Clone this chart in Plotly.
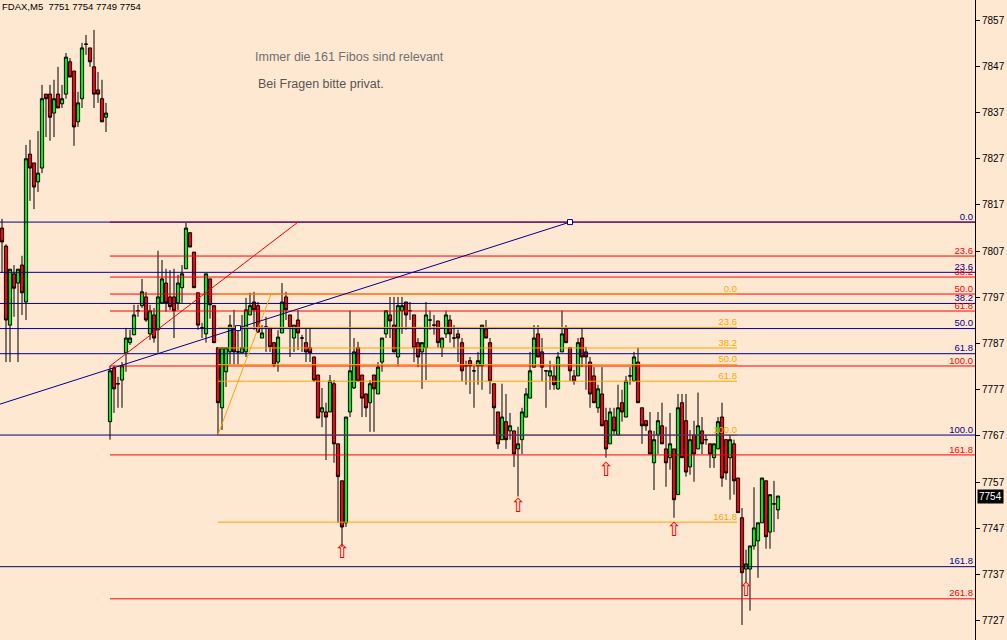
import plotly.graph_objects as go

# ---------------- data ----------------
symbol_header = "FDAX,M5  7751 7754 7749 7754"
note_1 = "Immer die 161 Fibos sind relevant"
note_2 = "Bei Fragen bitte privat."

bars = list(range(195))

opens = [7812.0, 7808.1, 7791.0, 7802.1, 7800.1, 7804.0, 7796.0, 7828.0, 7826.1, 7822.0,
         7825.0, 7841.0, 7841.0, 7836.9, 7841.0, 7838.9, 7841.0, 7848.0, 7846.0, 7835.0,
         7840.0, 7851.8, 7851.0, 7846.9, 7841.9, 7840.0, 7836.0,
         7770.1, 7781.7, 7778.3, 7779.1, 7785.0, 7787.2, 7788.9, 7794.1, 7795.2, 7797.1,
         7789.1, 7793.2, 7790.0, 7795.8, 7800.1, 7797.1, 7797.1, 7795.8, 7799.1, 7803.2,
         7811.0, 7806.8, 7798.0, 7790.4, 7789.1, 7801.0, 7795.2, 7786.1, 7773.1, 7780.9,
         7785.2, 7790.4, 7785.2, 7785.0, 7785.2, 7793.2, 7796.0, 7795.2, 7788.2, 7790.6,
         7790.4, 7787.2, 7783.0, 7789.3, 7797.1, 7793.2, 7788.2, 7792.1, 7788.2, 7787.2,
         7786.1, 7784.1, 7780.2, 7772.2, 7772.2, 7772.2, 7778.3, 7765.3, 7757.3, 7748.2,
         7772.2, 7777.4, 7786.1, 7780.2, 7776.1, 7774.2, 7780.2, 7776.1, 7783.0, 7789.1,
         7793.2, 7791.0, 7784.1, 7794.1, 7796.0, 7794.1, 7793.2, 7787.2, 7785.2, 7786.1,
         7792.1, 7791.0, 7791.9, 7786.1, 7789.1, 7792.1, 7788.2, 7789.1, 7787.2, 7782.2,
         7783.3, 7781.1, 7782.2, 7782.2, 7790.2, 7787.2, 7778.3, 7772.2, 7766.2, 7770.1,
         7768.1, 7768.1, 7764.2, 7766.2, 7771.1, 7775.2, 7781.9, 7789.1, 7785.2, 7781.1,
         7780.0, 7780.0, 7777.2, 7785.2, 7790.2, 7786.1, 7780.0, 7780.0, 7788.2, 7785.2,
         7783.0, 7780.0, 7773.1, 7776.1, 7770.3, 7765.3, 7771.1, 7767.2, 7774.2, 7771.1,
         7780.0, 7778.9, 7783.0, 7773.1, 7770.3, 7768.1, 7761.2, 7767.2, 7769.2, 7764.2,
         7762.3, 7764.2, 7754.3, 7774.2, 7770.3, 7760.3, 7767.2, 7764.2, 7768.1, 7766.2,
         7765.3, 7762.3, 7764.2, 7771.1, 7766.2, 7762.3, 7765.3, 7757.9, 7749.3, 7738.2,
         7738.2, 7743.2, 7744.3, 7748.2, 7757.3, 7746.2, 7752.3, 7751.0]

highs = [7814.0, 7808.5, 7803.1, 7804.0, 7803.1, 7806.0, 7830.0, 7831.1, 7826.1, 7833.0,
         7843.0, 7841.0, 7843.0, 7844.1, 7846.9, 7843.0, 7849.9, 7848.8, 7846.0, 7841.5,
         7852.1, 7853.8, 7851.0, 7854.9, 7845.8, 7844.1, 7839.1,
         7782.2, 7782.2, 7779.8, 7783.0, 7790.4, 7790.0, 7795.4, 7795.4, 7801.0, 7798.2,
         7795.4, 7794.7, 7807.1, 7805.1, 7803.2, 7802.9, 7803.2, 7801.9, 7804.0, 7813.1,
         7811.0, 7806.8, 7798.0, 7791.5, 7802.1, 7801.0, 7795.2, 7786.1, 7786.1, 7786.1,
         7793.2, 7794.3, 7790.6, 7793.2, 7796.9, 7798.0, 7798.2, 7796.0, 7791.0, 7792.8,
         7790.4, 7787.2, 7789.9, 7800.1, 7798.2, 7793.2, 7791.0, 7794.3, 7788.9, 7790.4,
         7790.4, 7784.1, 7780.2, 7777.4, 7774.2, 7780.2, 7779.1, 7765.3, 7757.3, 7771.1,
         7794.1, 7788.2, 7787.4, 7780.2, 7776.1, 7779.1, 7780.2, 7783.0, 7788.2, 7794.1,
         7797.1, 7797.1, 7797.1, 7797.1, 7796.0, 7796.0, 7793.2, 7788.2, 7787.2, 7796.0,
         7794.1, 7793.2, 7791.9, 7788.2, 7794.1, 7793.2, 7791.0, 7790.0, 7788.2, 7783.3,
         7784.1, 7782.2, 7785.2, 7791.0, 7792.1, 7788.2, 7778.3, 7772.2, 7778.3, 7776.1,
         7772.0, 7768.1, 7769.0, 7773.1, 7777.4, 7785.2, 7791.0, 7791.0, 7788.2, 7781.1,
         7783.3, 7782.2, 7785.2, 7794.1, 7791.0, 7786.1, 7781.3, 7788.2, 7790.2, 7786.3,
         7784.1, 7781.9, 7778.1, 7781.9, 7773.1, 7773.1, 7773.1, 7778.1, 7777.0, 7780.0,
         7781.9, 7785.2, 7786.1, 7773.1, 7770.3, 7772.2, 7768.1, 7772.2, 7774.2, 7769.0,
         7772.0, 7764.2, 7776.1, 7776.1, 7776.1, 7768.3, 7770.3, 7776.4, 7771.1, 7767.2,
         7765.3, 7765.3, 7771.1, 7774.2, 7766.2, 7767.2, 7766.2, 7757.9, 7751.4, 7742.4,
         7743.2, 7755.9, 7748.2, 7757.9, 7757.3, 7754.3, 7757.3, 7754.0]

lows = [7802.3, 7783.0, 7783.0, 7792.8, 7783.0, 7793.2, 7792.1, 7817.9, 7816.1, 7819.8,
        7823.9, 7831.7, 7830.9, 7831.7, 7838.0, 7838.0, 7840.0, 7844.7, 7829.8, 7833.9,
        7838.0, 7849.5, 7846.9, 7838.0, 7839.1, 7835.0, 7832.8,
        7766.2, 7772.0, 7773.1, 7773.1, 7780.9, 7786.7, 7788.9, 7792.8, 7794.7, 7791.7,
        7787.8, 7787.2, 7785.0, 7795.8, 7793.9, 7794.3, 7788.2, 7794.3, 7795.8, 7803.2,
        7807.9, 7799.1, 7790.0, 7788.2, 7787.2, 7792.4, 7787.2, 7767.2, 7768.3, 7777.6,
        7782.4, 7782.4, 7782.4, 7785.0, 7784.1, 7793.2, 7790.0, 7789.3, 7788.2, 7785.2,
        7785.2, 7781.9, 7780.9, 7789.3, 7792.1, 7784.1, 7785.2, 7785.6, 7785.2, 7783.0,
        7783.0, 7778.7, 7770.9, 7768.9, 7761.8, 7772.2, 7761.2, 7748.2, 7743.0, 7747.3,
        7771.1, 7777.2, 7778.9, 7771.1, 7771.1, 7767.9, 7767.9, 7776.1, 7780.9, 7788.2,
        7788.2, 7785.2, 7782.2, 7789.1, 7790.0, 7792.1, 7783.0, 7781.9, 7777.2, 7779.1,
        7790.0, 7788.9, 7786.1, 7784.1, 7788.2, 7787.2, 7786.1, 7783.0, 7778.9, 7778.1,
        7776.1, 7773.1, 7778.1, 7777.0, 7788.2, 7776.1, 7767.2, 7764.2, 7766.2, 7764.2,
        7766.2, 7760.3, 7753.9, 7763.1, 7771.1, 7775.2, 7781.9, 7784.1, 7778.9, 7773.1,
        7777.0, 7777.0, 7777.0, 7785.2, 7787.2, 7778.9, 7778.1, 7780.0, 7781.9, 7777.0,
        7773.1, 7774.2, 7772.0, 7769.2, 7762.3, 7765.3, 7767.2, 7767.2, 7770.1, 7771.1,
        7778.1, 7778.9, 7774.2, 7765.3, 7768.1, 7763.1, 7755.3, 7763.1, 7765.3, 7756.0,
        7759.7, 7749.3, 7754.3, 7762.3, 7758.2, 7758.6, 7757.1, 7764.2, 7763.1, 7765.1,
        7760.1, 7760.1, 7764.2, 7756.0, 7757.5, 7753.2, 7754.3, 7750.4, 7726.1, 7735.2,
        7729.2, 7742.4, 7736.3, 7748.2, 7742.6, 7742.6, 7746.2, 7749.0]

closes = [7809.0, 7792.1, 7803.1, 7799.0, 7803.1, 7798.0, 7827.0, 7825.0, 7820.9, 7823.9,
          7840.0, 7840.0, 7836.0, 7840.0, 7838.0, 7840.0, 7849.0, 7844.7, 7833.9, 7839.1,
          7851.0, 7851.8, 7848.0, 7841.0, 7841.0, 7835.0, 7836.9,
          7781.1, 7777.2, 7778.3, 7782.2, 7788.2, 7788.2, 7793.2, 7794.1, 7798.2, 7792.1,
          7794.1, 7788.2, 7797.1, 7801.0, 7795.8, 7795.0, 7794.1, 7800.1, 7802.1, 7812.0,
          7807.9, 7799.1, 7791.0, 7790.4, 7802.1, 7795.4, 7787.2, 7774.2, 7786.1, 7786.1,
          7791.0, 7785.2, 7785.2, 7786.1, 7794.3, 7795.2, 7794.3, 7789.5, 7789.3, 7790.6,
          7786.3, 7782.4, 7788.4, 7796.0, 7794.3, 7790.4, 7791.0, 7789.3, 7788.2, 7785.2,
          7785.0, 7779.1, 7770.9, 7773.1, 7771.1, 7778.9, 7765.3, 7758.2, 7747.3, 7771.1,
          7781.1, 7785.2, 7778.9, 7775.2, 7773.1, 7778.3, 7777.2, 7781.9, 7788.2, 7794.1,
          7791.9, 7785.2, 7795.2, 7795.2, 7793.2, 7794.1, 7786.1, 7784.1, 7787.2, 7793.2,
          7792.1, 7791.0, 7787.2, 7788.2, 7793.2, 7789.1, 7788.2, 7788.2, 7781.1, 7782.2,
          7782.2, 7781.1, 7783.3, 7791.0, 7788.2, 7778.9, 7773.1, 7765.3, 7771.1, 7766.2,
          7769.2, 7763.1, 7765.3, 7772.2, 7776.1, 7781.1, 7788.2, 7784.1, 7781.9, 7781.1,
          7781.1, 7778.1, 7784.1, 7789.1, 7787.2, 7781.1, 7778.9, 7787.2, 7784.1, 7784.1,
          7776.1, 7774.2, 7777.2, 7769.2, 7764.2, 7772.2, 7768.1, 7773.1, 7772.2, 7778.9,
          7780.0, 7784.1, 7774.2, 7769.2, 7769.2, 7763.1, 7766.2, 7770.3, 7765.3, 7761.2,
          7765.3, 7753.2, 7773.1, 7762.3, 7759.2, 7766.2, 7763.1, 7769.2, 7765.3, 7766.2,
          7763.1, 7765.3, 7770.1, 7757.9, 7759.0, 7766.2, 7757.3, 7750.4, 7737.4, 7739.3,
          7743.2, 7747.1, 7748.2, 7757.9, 7745.2, 7754.3, 7752.3, 7754.0]

# Fibonacci retracements (anchor prices, levels, bar span)
fib_levels_blue = [0.0, 23.6, 38.2, 50.0, 61.8, 100.0, 161.8]
fib_blue_high, fib_blue_low = 7813.3, 7767.2
fib_blue_span = [-30, 250]

fib_levels_red = [0.0, 23.6, 38.2, 50.0, 61.8, 100.0, 161.8, 261.8]
fib_red_high, fib_red_low = 7813.3, 7782.15
fib_red_span = [27, 250]

fib_levels_orange = [0.0, 23.6, 38.2, 50.0, 61.8, 100.0, 161.8]
fib_orange_high, fib_orange_low = 7797.7, 7767.2
fib_orange_span = [54, 183.75]

# trend lines (bar, price)
trend_blue_x, trend_blue_y = [-24, 142], [7767.4, 7813.3]
trend_blue_handles_x, trend_blue_handles_y = [59, 142], [7790.35, 7813.3]
trend_red_x, trend_red_y = [27, 74], [7782.15, 7813.3]
trend_orange_x, trend_orange_y = [54, 67.25], [7767.3, 7797.7]

# up-arrow signals
arrow_bars = [85, 129, 151, 168, 186]
arrow_prices = [7741.6, 7751.6, 7759.4, 7746.4, 7733.3]

price_ticks = [7727, 7737, 7747, 7757, 7767, 7777, 7787, 7797, 7807, 7817, 7827, 7837, 7847, 7857]
last_price = 7754

# ---------------- styling ----------------
BG = "#FFE8D1"
BLUE = "#00008C"
RED = "#FF0000"
ORANGE = "#FFA500"
GREEN = "#00F000"
FONT = "Liberation Sans"
X_RANGE = [-0.5, 243.25]
Y_RANGE = [7722.84, 7861.37]
LABEL_X_RIGHT = 242.75

fig = go.Figure()


def fib_lines(high, low, levels, span, color):
    prices = [high - lv / 100.0 * (high - low) for lv in levels]
    xs, ys = [], []
    for p in prices:
        xs += [span[0], span[1], None]
        ys += [p, p, None]
    fig.add_trace(go.Scatter(x=xs, y=ys, mode="lines", line=dict(color=color, width=1),
                             hoverinfo="skip", showlegend=False))
    return prices


def fib_labels(prices, levels, label_x, color, skip_zero_label=False):
    texts = ["%.1f" % lv for lv in levels]
    if skip_zero_label:
        texts[0] = ""
    fig.add_trace(go.Scatter(x=[label_x] * len(prices), y=prices, mode="text", text=texts,
                             textposition="top left",
                             textfont=dict(family=FONT, size=9.5, color=color),
                             hoverinfo="skip", showlegend=False, cliponaxis=False))


red_p = fib_lines(fib_red_high, fib_red_low, fib_levels_red, fib_red_span, RED)
orange_p = fib_lines(fib_orange_high, fib_orange_low, fib_levels_orange, fib_orange_span, ORANGE)
blue_p = fib_lines(fib_blue_high, fib_blue_low, fib_levels_blue, fib_blue_span, BLUE)
fib_labels(red_p, fib_levels_red, LABEL_X_RIGHT, RED, skip_zero_label=True)
fib_labels(orange_p, fib_levels_orange, fib_orange_span[1], ORANGE)
fib_labels(blue_p, fib_levels_blue, LABEL_X_RIGHT, BLUE)

fig.add_trace(go.Scatter(x=trend_red_x, y=trend_red_y, mode="lines",
                         line=dict(color=RED, width=1), hoverinfo="skip", showlegend=False))
fig.add_trace(go.Scatter(x=trend_orange_x, y=trend_orange_y, mode="lines",
                         line=dict(color=ORANGE, width=1), hoverinfo="skip", showlegend=False))
fig.add_trace(go.Scatter(x=trend_blue_x, y=trend_blue_y, mode="lines",
                         line=dict(color=BLUE, width=1), hoverinfo="skip", showlegend=False))
fig.add_trace(go.Scatter(x=trend_blue_handles_x, y=trend_blue_handles_y, mode="markers",
                         marker=dict(symbol="square", size=5, color="white",
                                     line=dict(color=BLUE, width=1)),
                         hoverinfo="skip", showlegend=False))

fig.add_trace(go.Candlestick(
    x=bars, open=opens, high=highs, low=lows, close=closes,
    increasing=dict(fillcolor=GREEN, line=dict(color="black", width=1)),
    decreasing=dict(fillcolor=RED, line=dict(color="black", width=1)),
    whiskerwidth=0, hoverinfo="skip", showlegend=False))

fig.add_trace(go.Scatter(x=arrow_bars, y=arrow_prices, mode="text", text=["⇧"] * len(arrow_bars),
                         textposition="middle center",
                         textfont=dict(family="DejaVu Sans", size=19, color=RED),
                         hoverinfo="skip", showlegend=False))

fig.add_annotation(xref="paper", yref="paper", x=0.0, y=1.0, xanchor="left", yanchor="top",
                   text=symbol_header, showarrow=False, xshift=0, yshift=1,
                   font=dict(family=FONT, size=9.5, color="black"))
fig.add_annotation(xref="paper", yref="paper", x=253 / 975, y=1 - 57 / 640, xanchor="left",
                   yanchor="middle", text=note_1, showarrow=False,
                   font=dict(family=FONT, size=12.5, color="#707070"))
fig.add_annotation(xref="paper", yref="paper", x=256 / 975, y=1 - 84 / 640, xanchor="left",
                   yanchor="middle", text=note_2, showarrow=False,
                   font=dict(family=FONT, size=12.5, color="#555555"))
fig.add_annotation(xref="paper", yref="y", x=1.0, y=last_price, xanchor="left", yanchor="middle",
                   text=str(last_price), showarrow=False, bgcolor="black", xshift=2,
                   borderpad=1, font=dict(family=FONT, size=10, color="white"))

fig.update_layout(
    width=1007, height=640,
    margin=dict(l=0, r=32, t=0, b=0),
    paper_bgcolor=BG, plot_bgcolor=BG,
    showlegend=False,
    hovermode=False,
    boxgap=0.2, boxgroupgap=0.0,
    xaxis=dict(range=X_RANGE, visible=False, rangeslider=dict(visible=False), fixedrange=True),
    yaxis=dict(range=Y_RANGE, side="right", tickvals=price_ticks, showgrid=False, zeroline=False,
               showline=True, linecolor="black", linewidth=1, ticks="outside", ticklen=4,
               tickcolor="black", tickfont=dict(family=FONT, size=10, color="black"),
               fixedrange=True),
)

fig.write_html("out.html", config={"displayModeBar": False},
               post_script="document.body.style.margin='0px';document.body.style.overflow='hidden';")
